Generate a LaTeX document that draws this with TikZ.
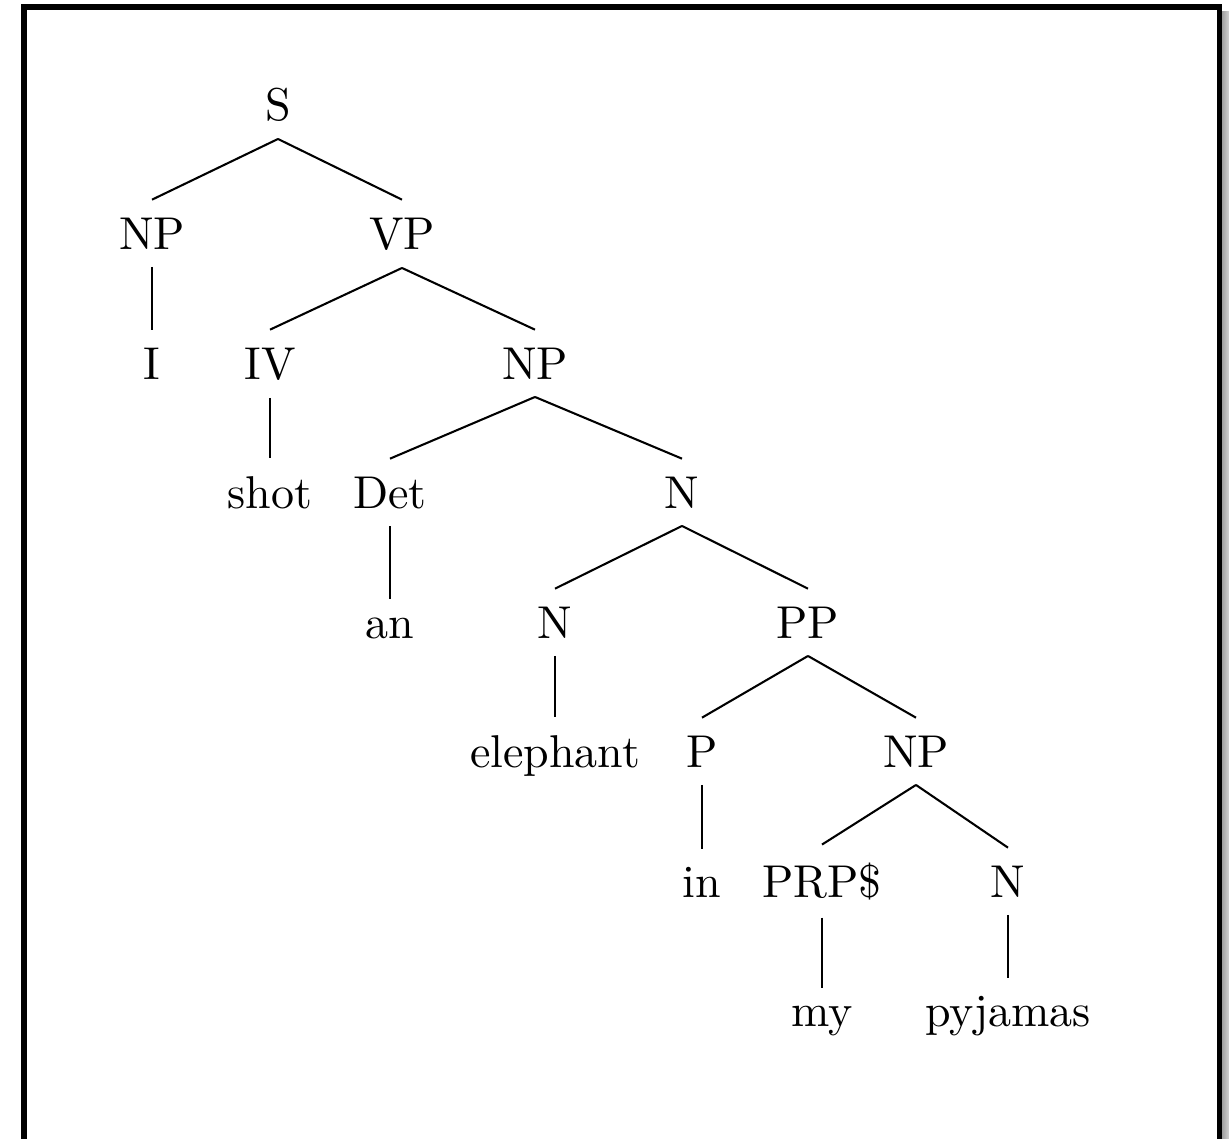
\documentclass[tikz,border=0pt]{standalone}
\begin{document}
\begin{tikzpicture}[x=0.2174pt, y=-0.2174pt,
  lbl/.style={anchor=base, inner sep=3.7pt},
  edge/.style={line width=0.45pt},
  frame/.style={line width=1.25pt, line join=miter}]
\useasboundingbox (0,0) rectangle (1229,1138);
% frame and shadow
\shade[left color=gray!75, right color=gray!35] (1222,11) rectangle (1229,1138);
\draw[frame] (24,1150) -- (24,7) -- (1219.5,7) -- (1219.5,1150);
% nodes
\node[lbl] (S) at (278,120) {S};
\node[lbl] (NPa) at (152,249) {NP};
\node[lbl] (VP) at (402,249) {VP};
\node[lbl] (I) at (152,379) {I};
\node[lbl] (IV) at (270,379) {IV};
\node[lbl] (NPb) at (535,379) {NP};
\node[lbl] (shot) at (270,508) {shot};
\node[lbl] (Det) at (390,508) {Det};
\node[lbl] (Na) at (682,508) {N};
\node[lbl] (an) at (390,638) {an};
\node[lbl] (Nb) at (555,638) {N};
\node[lbl] (PP) at (808,638) {PP};
\node[lbl] (eleph) at (555,767) {elephant};
\node[lbl] (P) at (702,767) {P};
\node[lbl] (NPc) at (916,767) {NP};
\node[lbl] (in) at (702,897) {in};
\node[lbl] (PRP) at (822,897) {PRP\$};
\node[lbl] (Nc) at (1008,897) {N};
\node[lbl] (my) at (822,1026) {my};
\node[lbl] (pyj) at (1008,1026) {pyjamas};
% edges
\draw[edge] (S.south) -- (NPa.north);
\draw[edge] (S.south) -- (VP.north);
\draw[edge] (NPa.south) -- (I.north);
\draw[edge] (VP.south) -- (IV.north);
\draw[edge] (VP.south) -- (NPb.north);
\draw[edge] (IV.south) -- (shot.north);
\draw[edge] (NPb.south) -- (Det.north);
\draw[edge] (NPb.south) -- (Na.north);
\draw[edge] (Det.south) -- (an.north);
\draw[edge] (Na.south) -- (Nb.north);
\draw[edge] (Na.south) -- (PP.north);
\draw[edge] (Nb.south) -- (eleph.north);
\draw[edge] (PP.south) -- (P.north);
\draw[edge] (PP.south) -- (NPc.north);
\draw[edge] (P.south) -- (in.north);
\draw[edge] (NPc.south) -- (PRP.north);
\draw[edge] (NPc.south) -- (Nc.north);
\draw[edge] (PRP.south) -- (my.north);
\draw[edge] (Nc.south) -- (pyj.north);
\end{tikzpicture}
\end{document}
